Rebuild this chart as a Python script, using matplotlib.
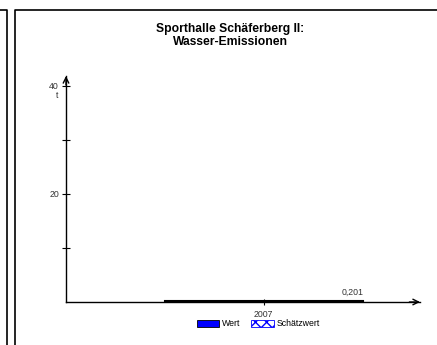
import matplotlib.pyplot as plt
from matplotlib.patches import Patch
from matplotlib.lines import Line2D

plt.rcParams['font.family'] = ['Liberation Sans', 'DejaVu Sans']

# data
years = ['2007']
values = [0.201]
value_labels = ['0,201']
y_ticks = [10, 20, 30, 40]
y_ticklabels = ['', '20', '', '40']

W, H = 437, 345
fig = plt.figure(figsize=(W / 100, H / 100), dpi=100)

# panel frames (neighbouring panel edge + this panel)
def px(x, y):
    return x / W, 1 - y / H

for xs, ys in [([0, 7, 7], [10, 10, 345]), ([15, 15, 437], [345, 10, 10])]:
    pts = [px(a, b) for a, b in zip(xs, ys)]
    fig.add_artist(Line2D([p[0] for p in pts], [p[1] for p in pts],
                          transform=fig.transFigure, color='black', lw=1.2))

ax = fig.add_axes([66 / W, 43 / H, (420 - 66) / W, (302 - 76) / H])
x = list(range(len(years)))
ax.bar(x, values, width=1.0, color='#0000ff', edgecolor='black', linewidth=1.5)
for xi, v, lab in zip(x, values, value_labels):
    ax.text(xi + 0.45, v + 0.8, lab, ha='center', va='bottom', fontsize=6.3, color='#333333')

ax.set_xlim(-1, 0.79)
ax.set_ylim(0, 41.85)
ax.set_xticks(x)
ax.set_xticklabels(years, fontsize=6.3, color='#333333')
ax.set_yticks(y_ticks)
ax.set_yticklabels(y_ticklabels, fontsize=6.3, color='#333333')
ax.tick_params(axis='y', direction='inout', length=6, width=0.8, pad=2)
ax.tick_params(axis='x', direction='inout', length=5, width=0.8, pad=3)
for s in ['top', 'right']:
    ax.spines[s].set_visible(False)
for s in ['left', 'bottom']:
    ax.spines[s].set_linewidth(1.0)

# arrow heads
ax.annotate('', xy=(1.0, 0), xytext=(0.97, 0), xycoords='axes fraction',
            arrowprops=dict(arrowstyle='->', lw=1.0, color='black', shrinkA=0, shrinkB=0))
ax.annotate('', xy=(0, 1.0), xytext=(0, 0.96), xycoords='axes fraction',
            arrowprops=dict(arrowstyle='->', lw=1.0, color='black', shrinkA=0, shrinkB=0))

fig.text(57 / W, 1 - 95 / H, 't', fontsize=6.3, ha='center', va='center', color='#333333')

fig.text(230 / W, 1 - 35.5 / H, 'Sporthalle Schäferberg II:\nWasser-Emissionen',
         ha='center', va='center', fontsize=8.7, fontweight='bold', linespacing=1.05)

handles = [Patch(facecolor='#0000ff', edgecolor='black', lw=0.6, label='Wert'),
           Patch(facecolor='white', edgecolor='#0000ff', hatch='xxx', lw=0.6, label='Schätzwert')]
fig.legend(handles=handles, loc='center', bbox_to_anchor=(258 / W, 1 - 324 / H), ncol=2,
           frameon=False, fontsize=6.3, handlelength=2.6, handleheight=0.8,
           handletextpad=0.3, columnspacing=1.2)

fig.savefig('out.png', dpi=100)
